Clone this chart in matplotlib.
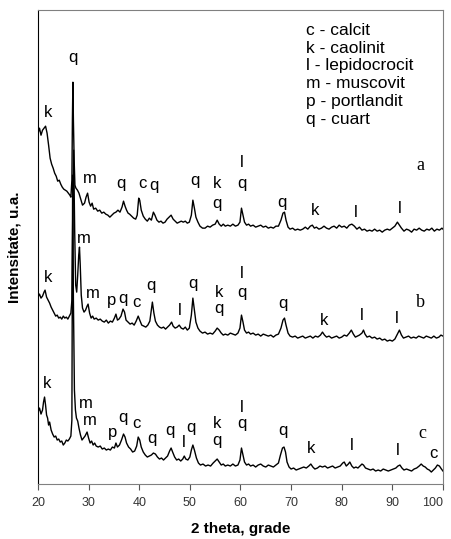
import matplotlib.pyplot as plt

plt.rcParams['font.family'] = ['Liberation Sans', 'DejaVu Sans']

# sample a
tt_a = [20.0, 20.3, 20.6, 20.9, 21.2, 21.5, 21.8, 22.1, 22.4, 22.7, 23.0, 23.3, 23.6, 23.9, 24.2, 24.5,
        24.8, 25.1, 25.4, 25.7, 26.0, 26.3, 26.5, 26.7, 26.8, 26.9, 27.0, 27.15, 27.3, 27.5, 27.8, 28.1,
        28.5, 28.8, 29.2, 29.5, 29.8, 30.1, 30.4, 30.7, 31.0, 31.4, 31.8, 32.2, 32.6, 33.0, 33.4, 33.8,
        34.2, 34.6, 35.0, 35.4, 35.8, 36.2, 36.6, 36.9, 37.2, 37.5, 37.8, 38.1, 38.5, 38.9, 39.3, 39.6,
        39.9, 40.1, 40.4, 40.8, 41.2, 41.6, 42.0, 42.4, 42.8, 43.1, 43.5, 43.9, 44.3, 44.7, 45.1, 45.5,
        45.9, 46.3, 46.7, 47.1, 47.5, 47.9, 48.3, 48.7, 49.1, 49.5, 49.9, 50.3, 50.6, 50.9, 51.2, 51.6,
        52.0, 52.5, 53.0, 53.5, 54.0, 54.5, 55.0, 55.4, 55.8, 56.2, 56.6, 57.0, 57.5, 58.0, 58.5, 59.0,
        59.5, 59.9, 60.2, 60.5, 60.8, 61.2, 61.6, 62.0, 62.5, 63.0, 63.5, 64.0, 64.5, 65.0, 65.5, 66.0,
        66.5, 67.0, 67.5, 68.0, 68.4, 68.7, 69.0, 69.4, 69.8, 70.3, 70.8, 71.3, 71.8, 72.3, 72.8, 73.3,
        73.8, 74.2, 74.6, 75.0, 75.5, 76.0, 76.5, 77.0, 77.5, 78.0, 78.5, 79.0, 79.5, 80.0, 80.5, 81.0,
        81.5, 82.0, 82.5, 83.0, 83.5, 84.0, 84.5, 85.0, 85.5, 86.0, 86.5, 87.0, 87.5, 88.0, 88.5, 89.0,
        89.5, 90.0, 90.5, 91.0, 91.4, 91.8, 92.3, 92.8, 93.3, 93.8, 94.3, 94.8, 95.3, 95.8, 96.3, 96.8,
        97.3, 97.8, 98.3, 98.8, 99.3, 99.8, 100.0]
int_a = [351, 356, 349, 354, 356, 358, 351, 339, 326, 320, 316, 311, 308, 303, 304, 300,
         297, 295, 294, 293, 291, 289, 287, 304, 364, 402, 364, 324, 299, 296, 294, 291,
         284, 279, 281, 287, 291, 282, 278, 281, 275, 276, 273, 274, 271, 272, 270, 269,
         267, 269, 271, 272, 274, 272, 277, 283, 278, 274, 271, 270, 268, 266, 265, 269,
         286, 284, 274, 268, 265, 263, 266, 264, 272, 269, 264, 262, 263, 261, 262, 265,
         267, 269, 265, 263, 261, 262, 263, 262, 263, 261, 262, 269, 284, 276, 267, 262,
         258, 256, 256, 258, 257, 259, 260, 264, 260, 258, 260, 258, 259, 258, 260, 258,
         259, 262, 276, 269, 262, 259, 260, 258, 259, 257, 258, 259, 257, 258, 256, 257,
         256, 258, 258, 264, 271, 272, 264, 257, 255, 256, 254, 255, 254, 255, 257, 255,
         258, 259, 256, 257, 255, 256, 258, 256, 255, 257, 258, 256, 259, 257, 258, 256,
         259, 260, 258, 255, 257, 254, 255, 253, 254, 253, 255, 253, 254, 252, 254, 255,
         254, 256, 258, 262, 259, 256, 253, 255, 254, 252, 255, 254, 256, 254, 253, 255,
         254, 256, 253, 255, 254, 256, 255]

# sample b
tt_b = [20.0, 20.3, 20.6, 20.9, 21.2, 21.4, 21.7, 22.0, 22.3, 22.6, 22.9, 23.2, 23.5, 23.8, 24.1, 24.4,
        24.7, 25.0, 25.3, 25.6, 25.9, 26.2, 26.5, 26.7, 26.9, 27.05, 27.25, 27.45, 27.65, 27.85, 28.05, 28.2,
        28.35, 28.55, 28.8, 29.1, 29.4, 29.7, 29.9, 30.2, 30.5, 30.8, 31.1, 31.5, 31.9, 32.3, 32.7, 33.1,
        33.5, 33.9, 34.3, 34.7, 35.1, 35.4, 35.7, 36.0, 36.4, 36.8, 37.1, 37.4, 37.8, 38.2, 38.6, 39.0,
        39.4, 39.8, 40.1, 40.5, 40.9, 41.3, 41.7, 42.1, 42.4, 42.6, 42.9, 43.2, 43.6, 44.0, 44.4, 44.8,
        45.2, 45.6, 46.0, 46.4, 46.7, 47.1, 47.5, 47.9, 48.3, 48.7, 49.1, 49.5, 49.9, 50.3, 50.6, 50.9,
        51.2, 51.6, 52.0, 52.5, 53.0, 53.5, 54.0, 54.5, 55.0, 55.4, 55.8, 56.2, 56.6, 57.0, 57.5, 58.0,
        58.5, 59.0, 59.5, 59.9, 60.2, 60.5, 60.8, 61.2, 61.6, 62.0, 62.5, 63.0, 63.5, 64.0, 64.5, 65.0,
        65.5, 66.0, 66.5, 67.0, 67.5, 68.0, 68.4, 68.7, 69.0, 69.4, 69.8, 70.3, 70.8, 71.3, 71.8, 72.3,
        72.8, 73.3, 73.8, 74.3, 74.8, 75.3, 75.8, 76.2, 76.6, 77.0, 77.5, 78.0, 78.5, 79.0, 79.5, 80.0,
        80.5, 81.0, 81.5, 81.9, 82.3, 82.7, 83.1, 83.5, 84.0, 84.3, 84.6, 85.0, 85.5, 86.0, 86.5, 87.0,
        87.5, 88.0, 88.5, 89.0, 89.5, 90.0, 90.5, 91.0, 91.4, 91.8, 92.2, 92.7, 93.2, 93.7, 94.2, 94.7,
        95.2, 95.7, 96.2, 96.7, 97.2, 97.7, 98.2, 98.7, 99.2, 99.6, 100.0]
int_b = [187, 190, 186, 188, 192, 194, 187, 184, 181, 177, 174, 171, 168, 169, 166, 167,
         165, 168, 166, 167, 165, 168, 171, 184, 284, 334, 254, 199, 192, 209, 229, 237,
         219, 189, 176, 172, 174, 178, 180, 171, 166, 168, 165, 166, 164, 165, 163, 162,
         164, 161, 163, 162, 166, 170, 164, 165, 168, 175, 172, 164, 162, 160, 161, 159,
         163, 168, 164, 159, 158, 157, 159, 163, 174, 182, 171, 163, 159, 157, 156, 157,
         155, 157, 159, 162, 158, 156, 157, 159, 156, 155, 157, 154, 156, 169, 186, 174,
         162, 156, 153, 151, 152, 150, 151, 150, 153, 156, 154, 151, 149, 150, 149, 151,
         150, 149, 151, 156, 169, 162, 154, 151, 152, 150, 151, 149, 150, 148, 150, 149,
         148, 149, 147, 149, 150, 156, 164, 166, 159, 151, 148, 147, 148, 146, 147, 148,
         146, 147, 148, 146, 148, 147, 149, 152, 149, 147, 148, 146, 147, 148, 146, 147,
         149, 148, 151, 154, 150, 147, 148, 149, 151, 154, 150, 147, 148, 146, 147, 145,
         146, 144, 145, 143, 144, 143, 145, 150, 154, 149, 146, 147, 148, 146, 147, 146,
         148, 147, 146, 148, 147, 146, 148, 146, 147, 149, 148]

# sample c
tt_c = [20.0, 20.3, 20.6, 20.9, 21.1, 21.3, 21.5, 21.7, 21.9, 22.1, 22.3, 22.6, 22.9, 23.2, 23.5, 23.8,
        24.1, 24.4, 24.7, 25.0, 25.3, 25.6, 25.9, 26.2, 26.5, 26.7, 26.85, 27.0, 27.2, 27.4, 27.6, 27.85,
        28.1, 28.4, 28.7, 29.0, 29.3, 29.5, 29.7, 30.0, 30.3, 30.6, 30.9, 31.2, 31.5, 31.9, 32.3, 32.7,
        33.1, 33.5, 33.9, 34.3, 34.7, 35.1, 35.4, 35.7, 36.1, 36.5, 36.9, 37.2, 37.5, 37.9, 38.3, 38.7,
        39.1, 39.5, 39.8, 40.1, 40.4, 40.8, 41.2, 41.6, 42.0, 42.4, 42.8, 43.2, 43.6, 44.0, 44.4, 44.8,
        45.2, 45.6, 46.0, 46.3, 46.6, 47.0, 47.4, 47.8, 48.2, 48.6, 48.9, 49.2, 49.6, 50.0, 50.3, 50.6,
        50.9, 51.3, 51.7, 52.1, 52.6, 53.1, 53.6, 54.1, 54.6, 55.0, 55.4, 55.8, 56.2, 56.6, 57.0, 57.5,
        58.0, 58.5, 59.0, 59.5, 59.9, 60.2, 60.5, 60.8, 61.2, 61.6, 62.0, 62.5, 63.0, 63.5, 64.0, 64.5,
        65.0, 65.5, 66.0, 66.5, 67.0, 67.5, 67.9, 68.3, 68.6, 68.9, 69.2, 69.6, 70.0, 70.5, 71.0, 71.5,
        72.0, 72.5, 73.0, 73.5, 73.9, 74.3, 74.7, 75.2, 75.7, 76.2, 76.7, 77.2, 77.7, 78.2, 78.7, 79.2,
        79.7, 80.2, 80.5, 80.9, 81.3, 81.6, 82.0, 82.4, 82.8, 83.2, 83.6, 84.0, 84.3, 84.7, 85.2, 85.7,
        86.2, 86.7, 87.2, 87.7, 88.2, 88.7, 89.2, 89.7, 90.2, 90.7, 91.1, 91.5, 91.9, 92.3, 92.8, 93.3,
        93.8, 94.3, 94.8, 95.3, 95.7, 96.1, 96.5, 96.9, 97.3, 97.7, 98.1, 98.5, 98.9, 99.3, 99.7, 100.0]
int_c = [72, 76, 70, 74, 82, 87, 79, 69, 66, 59, 62, 54, 50, 47, 48, 44,
         45, 42, 43, 39, 41, 44, 43, 45, 48, 64, 309, 184, 94, 74, 66, 63,
         56, 49, 44, 46, 48, 50, 52, 46, 41, 43, 39, 41, 38, 37, 38, 35,
         36, 34, 35, 34, 37, 36, 41, 37, 39, 44, 50, 47, 41, 37, 35, 32,
         33, 38, 47, 44, 37, 32, 29, 27, 28, 29, 31, 30, 27, 25, 26, 24,
         26, 28, 33, 36, 32, 27, 24, 25, 23, 25, 28, 25, 24, 27, 34, 39,
         34, 26, 21, 19, 20, 18, 19, 18, 21, 23, 25, 22, 19, 20, 18, 19,
         18, 20, 18, 19, 24, 36, 29, 22, 19, 20, 18, 19, 17, 19, 20, 18,
         17, 19, 18, 17, 19, 21, 29, 36, 37, 32, 22, 17, 15, 16, 14, 15,
         16, 17, 16, 18, 20, 17, 15, 16, 18, 17, 18, 16, 17, 18, 16, 17,
         18, 21, 22, 18, 20, 22, 18, 16, 17, 16, 18, 20, 19, 16, 15, 14,
         15, 13, 14, 13, 15, 14, 13, 14, 15, 16, 18, 19, 16, 14, 15, 14,
         13, 15, 16, 18, 20, 18, 17, 15, 14, 12, 14, 16, 19, 18, 15, 13]

# phase letters over the peaks: (letter, 2theta, height)
marks_a = [('k', 21.9, 372), ('q', 26.9, 427), ('m', 30.2, 306), ('q', 36.4, 301), ('c', 40.7, 301),
           ('q', 42.9, 299), ('q', 51.0, 304), ('k', 55.4, 301), ('q', 55.4, 281), ('l', 60.2, 322),
           ('q', 60.2, 301), ('q', 68.2, 282), ('k', 74.8, 274), ('l', 82.7, 272), ('l', 91.5, 276)]
marks_b = [('k', 21.9, 207), ('m', 29.0, 246), ('m', 30.8, 191), ('p', 34.6, 184), ('q', 36.8, 186),
           ('c', 39.5, 182), ('q', 42.3, 199), ('l', 48.0, 174), ('q', 50.6, 201), ('k', 55.8, 192),
           ('q', 55.8, 176), ('l', 60.2, 211), ('q', 60.2, 192), ('q', 68.4, 181), ('k', 76.5, 164),
           ('l', 84.0, 169), ('l', 90.8, 166)]
marks_c = [('k', 21.7, 101), ('m', 29.4, 81), ('m', 30.2, 64), ('p', 34.8, 52), ('q', 36.8, 67),
           ('c', 39.5, 61), ('q', 42.5, 46), ('q', 46.1, 54), ('l', 48.8, 42), ('q', 50.2, 57),
           ('k', 55.4, 61), ('q', 55.4, 44), ('l', 60.2, 77), ('q', 60.2, 61), ('q', 68.4, 54),
           ('k', 73.9, 36), ('l', 81.9, 39), ('l', 91.0, 34), ('c', 98.1, 31)]

phases = ['c - calcit', 'k - caolinit', 'l - lepidocrocit', 'm - muscovit', 'p - portlandit', 'q - cuart']

fig = plt.figure(figsize=(4.52, 5.39), dpi=100)
ax = fig.add_axes([0.084, 0.102, 0.896, 0.879])

for tt, inten in [(tt_a, int_a), (tt_b, int_b), (tt_c, int_c)]:
    ax.plot(tt, inten, color='black', lw=1.0)

for marks in [marks_a, marks_b, marks_c]:
    for letter, x, y in marks:
        ax.text(x, y, letter, ha='center', va='center', fontsize=12)

# sample names
ax.text(95.5, 319, 'a', family='Liberation Serif', fontsize=13, ha='center', va='center')
ax.text(95.5, 182, 'b', family='Liberation Serif', fontsize=13, ha='center', va='center')
ax.text(95.9, 51, 'c', family='Liberation Serif', fontsize=13, ha='center', va='center')

for i, s in enumerate(phases):
    ax.text(72.9, 454 - i * 17.8, s, ha='left', va='center', fontsize=12.5)

ax.set_xlim(20, 100)
ax.set_ylim(0, 474)
ax.set_xticks(range(20, 101, 10))
ax.set_yticks([])
ax.tick_params(axis='x', direction='out', length=4, width=0.8, color='#555555',
               labelsize=9, labelcolor='#333333', pad=5)
# keep the last tick label inside the figure
ax.get_xticklabels()[-1].set_horizontalalignment('right')
for side in ['top', 'right', 'bottom']:
    ax.spines[side].set_color('#808080')
ax.spines['left'].set_color('black')
ax.set_xlabel('2 theta, grade', fontsize=11, fontweight='bold', labelpad=10)
ax.set_ylabel('Intensitate, u.a.', fontsize=11, fontweight='bold', labelpad=12)

plt.savefig('out.png', dpi=100)
